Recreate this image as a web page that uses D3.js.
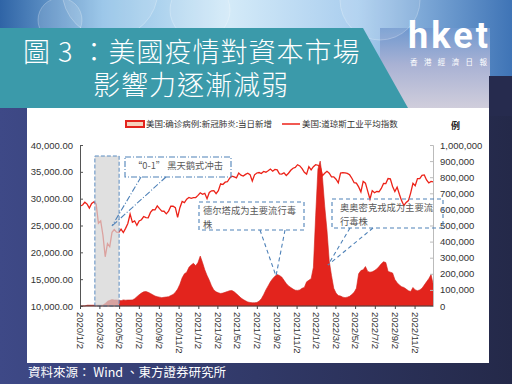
<!DOCTYPE html>
<html>
<head>
<meta charset="utf-8">
<script src="https://cdn.jsdelivr.net/npm/d3@7"></script>
<style>
body { margin: 0; background: #262a4c; }
svg { display: block; }
</style>
</head>
<body>
<div id="slide"></div>
<script>
// weekly (Friday) readings, 2020/1/3 .. 2022/12/30
var dowValues = [
  28635, 28824, 29348, 28990, 28256, 29103, 29398, 28992, 25409, 25865, 23186, 19174, 21637,
  21053, 23719, 24242, 23775, 23724, 24331, 23685, 24465, 25383, 27111, 25606, 25871, 25016,
  25827, 26075, 26672, 26470, 26428, 27433, 27931, 27930, 28654, 28133, 27666, 27657, 27174,
  27683, 28587, 28606, 28336, 26502, 28323, 29480, 29263, 29910, 30218, 30046, 30179, 30200, 30606,
  31098, 30814, 30997, 29983, 31148, 31458, 31494, 30932, 31496, 32779, 32628, 33072,
  33153, 33801, 34200, 34043, 33875, 34778, 34382, 34208, 34529, 34756, 34480, 33290, 34434,
  34786, 34870, 34688, 35062, 34935, 35209, 35515, 35120, 35456, 35369, 34608, 34584, 34798,
  34326, 34746, 35295, 35677, 35820, 36328, 36100, 35602, 34899, 34580, 35971, 35365, 35950, 36338,
  36231, 35912, 34265, 34725, 35089, 34738, 34079, 34059, 33615, 32945, 34755, 34862,
  34818, 34721, 34451, 33811, 32977, 32899, 32197, 31262, 33213, 32900, 31393, 29889, 31501,
  31097, 31338, 31288, 31899, 32845, 32803, 33761, 33707, 32283, 31318, 32152, 30822, 29590, 28726,
  29297, 29635, 31083, 32862, 32403, 33748, 33746, 34347, 34430, 33477, 32921, 33204, 33147
];

var caseValues = [
  0, 0, 0, 5000, 5000, 5000, 5000, 5000, 5000, 5000, 6000, 15000, 30000,
  35000, 40000, 38000, 38000, 36000, 33000, 38000, 36000, 37000, 37000, 38000, 45000, 58000,
  70000, 80000, 88000, 90000, 85000, 78000, 70000, 62000, 58000, 55000, 52000, 54000, 56000,
  58000, 65000, 72000, 85000, 105000, 135000, 175000, 200000, 210000, 240000, 255000, 265000, 250000, 270000,
  310000, 270000, 225000, 190000, 160000, 125000, 100000, 88000, 82000, 78000, 80000, 85000,
  90000, 95000, 96000, 88000, 76000, 63000, 50000, 40000, 32000, 25000, 22000, 20000, 20000,
  22000, 30000, 45000, 70000, 100000, 125000, 150000, 170000, 185000, 195000, 190000, 180000, 160000,
  140000, 125000, 115000, 105000, 98000, 97000, 100000, 110000, 115000, 150000, 160000, 170000, 240000, 560000,
  850000, 900000, 800000, 620000, 470000, 280000, 190000, 110000, 80000, 65000, 62000, 55000,
  52000, 55000, 60000, 72000, 85000, 110000, 200000, 220000, 225000, 245000, 215000, 210000, 212000,
  220000, 230000, 245000, 262000, 275000, 270000, 215000, 210000, 205000, 165000, 145000, 130000, 120000, 115000,
  105000, 95000, 90000, 115000, 100000, 95000, 100000, 110000, 130000, 150000, 170000, 195000, 130000
];

var xTickLabels = ["2020/1/2", "2020/3/2", "2020/5/2", "2020/7/2", "2020/9/2", "2020/11/2",
  "2021/1/2", "2021/3/2", "2021/5/2", "2021/7/2", "2021/9/2", "2021/11/2",
  "2022/1/2", "2022/3/2", "2022/5/2", "2022/7/2", "2022/9/2", "2022/11/2"];
var leftTicks = [10000, 15000, 20000, 25000, 30000, 35000, 40000];
var rightTicks = [0, 100000, 200000, 300000, 400000, 500000, 600000, 700000, 800000, 900000, 1000000];
var seriesNames = ["美国:确诊病例:新冠肺炎:当日新增", "美国:道琼斯工业平均指数"];
var notes = [
  { lines: ["“0-1” 黑天鹅式冲击"] },
  { lines: ["德尔塔成为主要流行毒", "株"] },
  { lines: ["奥奥密克戎成为主要流", "行毒株"] }
];

var parseDay = d3.timeParse("%Y/%-m/%-d");
var weeks = d3.timeFriday.range(new Date(2020, 0, 3), new Date(2022, 11, 31));
var data = weeks.map(function(d, i) { return { date: d, dow: dowValues[i], cases: caseValues[i] }; });

var svg = d3.select("#slide").append("svg").attr("width", 512).attr("height", 384);
var defs = svg.append("defs");

// ---- slide background ----
var g1 = defs.append("linearGradient").attr("id", "navy").attr("x1", 0).attr("x2", 1).attr("y1", 0).attr("y2", 0);
g1.append("stop").attr("offset", 0).attr("stop-color", "#3e4987");
g1.append("stop").attr("offset", 1).attr("stop-color", "#242949");

var g2 = defs.append("linearGradient").attr("id", "sky").attr("x1", 0).attr("x2", 1).attr("y1", 0).attr("y2", 0);
g2.append("stop").attr("offset", 0).attr("stop-color", "#2f64a6");
g2.append("stop").attr("offset", 0.2).attr("stop-color", "#8fc0e6");
g2.append("stop").attr("offset", 0.45).attr("stop-color", "#d3eaf8");
g2.append("stop").attr("offset", 0.7).attr("stop-color", "#a9cdee");
g2.append("stop").attr("offset", 1).attr("stop-color", "#3f74b6");

var g3 = defs.append("linearGradient").attr("id", "lav").attr("x1", 0).attr("x2", 0).attr("y1", 0).attr("y2", 1);
g3.append("stop").attr("offset", 0).attr("stop-color", "#6f98cf");
g3.append("stop").attr("offset", 0.45).attr("stop-color", "#a9b2d4");
g3.append("stop").attr("offset", 1).attr("stop-color", "#d2cfdc");

svg.append("rect").attr("width", 512).attr("height", 384).attr("fill", "url(#navy)");
svg.append("rect").attr("width", 512).attr("height", 80).attr("fill", "url(#sky)");
svg.append("rect").attr("x", 380).attr("y", 28).attr("width", 110).attr("height", 82).attr("fill", "url(#lav)");
svg.append("rect").attr("x", 489).attr("y", 76).attr("width", 23).attr("height", 40).attr("fill", "#262b4e");

// soft bokeh
[[110, -10, 48], [200, 10, 30], [380, 0, 40], [60, 20, 22]].forEach(function(c) {
  svg.append("circle").attr("cx", c[0]).attr("cy", c[1]).attr("r", c[2])
    .attr("fill", "#ffffff").attr("fill-opacity", 0.12)
    .attr("stroke", "#ffffff").attr("stroke-opacity", 0.25);
});

// title banner
svg.append("polygon").attr("points", "0,28 363,28 408,108 0,108").attr("fill", "#3b9aaa");
svg.append("text").attr("x", 23).attr("y", 62)
  .attr("font-family", "'Noto Sans CJK TC', 'Noto Sans CJK SC', sans-serif").attr("font-weight", 300)
  .attr("font-size", 27).attr("letter-spacing", 1).attr("fill", "#ffffff")
  .text("圖 3 ：美國疫情對資本市場");
svg.append("text").attr("x", 93).attr("y", 95)
  .attr("font-family", "'Noto Sans CJK TC', 'Noto Sans CJK SC', sans-serif").attr("font-weight", 300)
  .attr("font-size", 27).attr("letter-spacing", 1).attr("fill", "#ffffff")
  .text("影響力逐漸減弱");

// hket logo
svg.append("text").attr("x", 408).attr("y", 48)
  .attr("font-family", "Roboto, 'Open Sans', sans-serif").attr("font-weight", 700)
  .attr("font-size", 36).attr("textLength", 80).attr("fill", "#ffffff").text("hket");
svg.append("text").attr("x", 410).attr("y", 65)
  .attr("font-family", "'Noto Sans CJK TC', sans-serif").attr("font-size", 7.5)
  .attr("textLength", 77).attr("fill", "#ffffff").text("香港經濟日報");

// white panel
svg.append("rect").attr("x", 27).attr("y", 108).attr("width", 462).attr("height", 255).attr("fill", "#ffffff");

// footer
svg.append("text").attr("x", 28).attr("y", 377)
  .attr("font-family", "'Noto Sans CJK TC', sans-serif").attr("font-size", 12.5)
  .attr("fill", "#ffffff").text("資料來源： Wind 、東方證券研究所");

// ---- chart ----
var x = d3.scaleTime().domain([new Date(2020, 0, 2), new Date(2022, 11, 29)]).range([80, 433]);
var yL = d3.scaleLinear().domain([10000, 40000]).range([306, 145]);
var yR = d3.scaleLinear().domain([0, 1000000]).range([306, 145]);

var chart = svg.append("g").attr("font-family", "'Liberation Sans Narrow', 'Liberation Sans', Arial, sans-serif");

chart.append("path").datum(data)
  .attr("d", d3.area().x(function(d) { return x(d.date); }).y0(yR(0)).y1(function(d) { return yR(d.cases); }))
  .attr("fill", "#e3241d").attr("stroke", "#d0201a").attr("stroke-width", 0.6);

chart.append("path").datum(data)
  .attr("d", d3.line().x(function(d) { return x(d.date); }).y(function(d) { return yL(d.dow); }))
  .attr("fill", "none").attr("stroke", "#ec2218").attr("stroke-width", 1.3);

// shaded shock period
var shockStart = new Date(2020, 1, 17), shockEnd = parseDay("2020/5/2");
chart.append("rect")
  .attr("x", x(shockStart)).attr("y", 156)
  .attr("width", x(shockEnd) - x(shockStart)).attr("height", yL(10000) - 156)
  .attr("fill", "#d4d4d4").attr("fill-opacity", 0.72)
  .attr("stroke", "#5b8cc0").attr("stroke-width", 1).attr("stroke-dasharray", "4,2");

// axes
var leftAxis = chart.append("g").attr("transform", "translate(80,0)")
  .call(d3.axisLeft(yL).tickValues(leftTicks).tickSize(-3).tickPadding(7).tickFormat(d3.format(",.2f")));
leftAxis.select(".domain").attr("stroke", "#555");
leftAxis.selectAll(".tick line").attr("stroke", "#555");
leftAxis.selectAll("text").attr("font-size", 9.5).attr("fill", "#333");

var rightAxis = chart.append("g").attr("transform", "translate(433,0)")
  .call(d3.axisRight(yR).tickValues(rightTicks).tickSize(-3).tickPadding(7).tickFormat(d3.format(",")));
rightAxis.select(".domain").attr("stroke", "#bbb");
rightAxis.selectAll(".tick line").attr("stroke", "#bbb");
rightAxis.selectAll("text").attr("font-size", 9.5).attr("fill", "#333");

var bottomAxis = chart.append("g").attr("transform", "translate(0,306)")
  .call(d3.axisBottom(x).tickValues(xTickLabels.map(parseDay)).tickSize(3).tickFormat(d3.timeFormat("%Y/%-m/%-d")));
bottomAxis.select(".domain").attr("stroke", "#444").attr("d", "M80,0H433");
bottomAxis.selectAll(".tick line").attr("stroke", "#444");
bottomAxis.selectAll("text")
  .attr("transform", "rotate(90)").attr("text-anchor", "start")
  .attr("x", 6).attr("y", 0).attr("dy", "0.35em")
  .attr("font-size", 9.5).attr("fill", "#333");

// legend
var legend = chart.append("g").attr("font-family", "'Noto Sans CJK SC', sans-serif").attr("font-size", 8.5).attr("fill", "#333");
legend.append("rect").attr("x", 126).attr("y", 121).attr("width", 18).attr("height", 6)
  .attr("fill", "#f6d2bd").attr("stroke", "#e3241d").attr("stroke-width", 2);
legend.append("text").attr("x", 146).attr("y", 127).text(seriesNames[0]);
legend.append("line").attr("x1", 282).attr("x2", 300).attr("y1", 124).attr("y2", 124)
  .attr("stroke", "#ec2218").attr("stroke-width", 1.5);
legend.append("text").attr("x", 302).attr("y", 127).text(seriesNames[1]);
chart.append("text").attr("x", 451).attr("y", 129).attr("font-size", 9).attr("font-weight", 700)
  .attr("font-family", "'Noto Sans CJK SC', sans-serif").attr("fill", "#222").text("例");

// annotations
var noteBoxes = [
  { x: 125, y: 157, w: 106, h: 20, dash: "6,2,1,2", tx: 178, anchor: "middle",
    from: [[141, 177], [166, 177]], to: [112, 226] },
  { x: 199, y: 202, w: 105, h: 28, dash: "4,3", tx: 203, anchor: "start",
    from: [[260, 230], [285, 230]], to: [276, 276] },
  { x: 332, y: 199, w: 111, h: 29, dash: "4,3", tx: 340, anchor: "start",
    from: [[350, 228], [373, 228]], to: [328, 265] }
];
var noteG = chart.append("g").attr("font-family", "'Noto Sans CJK SC', sans-serif");
noteBoxes.forEach(function(b, i) {
  noteG.append("rect").attr("x", b.x).attr("y", b.y).attr("width", b.w).attr("height", b.h)
    .attr("fill", "none").attr("stroke", "#4f82b8").attr("stroke-width", 1.1).attr("stroke-dasharray", b.dash);
  b.from.forEach(function(p) {
    noteG.append("line").attr("x1", p[0]).attr("y1", p[1]).attr("x2", b.to[0]).attr("y2", b.to[1])
      .attr("stroke", "#4f82b8").attr("stroke-width", 1.1).attr("stroke-dasharray", b.dash);
  });
  notes[i].lines.forEach(function(t, j) {
    noteG.append("text").attr("x", b.tx).attr("y", b.y + 12 + j * 13.5)
      .attr("text-anchor", b.anchor).attr("font-size", 9.3).attr("fill", "#595959").text(t);
  });
});
</script>
</body>
</html>
